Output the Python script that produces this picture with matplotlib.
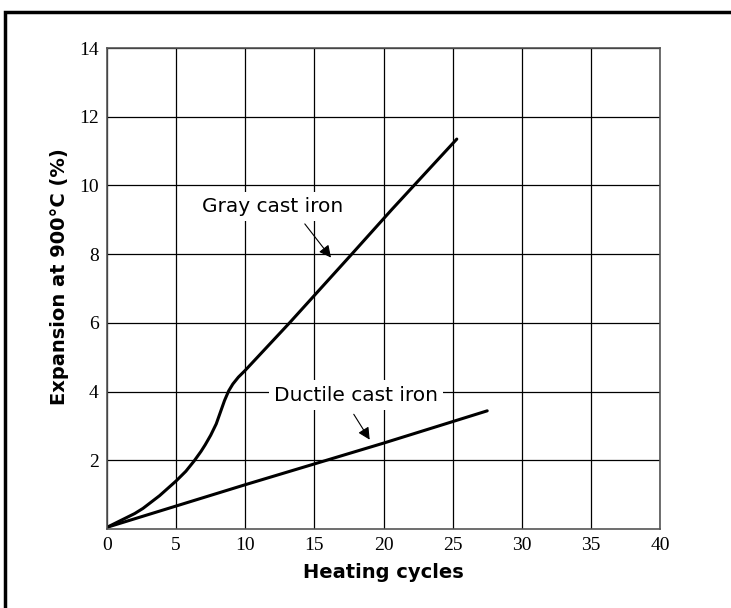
import matplotlib.pyplot as plt
from matplotlib.patches import Rectangle

# values
gray_x = [0, 1.0, 2.0, 2.6, 3.8, 5.0, 5.7, 6.3, 6.8, 7.1, 7.5, 7.9, 8.2, 8.5, 8.8, 9.1, 9.5, 10.0, 13.2, 17.7, 20.6, 25.3]
gray_y = [0.05, 0.25, 0.45, 0.6, 0.97, 1.4, 1.68, 1.98, 2.26, 2.45, 2.73, 3.06, 3.4, 3.74, 4.02, 4.22, 4.42, 4.62, 6.0, 8.0, 9.3, 11.35]
ductile_x = [0, 10, 20, 27.5]
ductile_y = [0.05, 1.29, 2.5, 3.44]

xticks = [0, 5, 10, 15, 20, 25, 30, 35, 40]
yticks = [2, 4, 6, 8, 10, 12, 14]

fig = plt.figure(figsize=(7.31, 6.08), dpi=100)
ax = fig.add_axes([0.1464, 0.1299, 0.7565, 0.7911])

# outer frame (only top and left edges visible in the original)
fig.patches.append(Rectangle((5 / 731, -0.1), 1.2, 1 - 12 / 608 + 0.1, transform=fig.transFigure,
                             fill=False, edgecolor="black", linewidth=2.5))

ax.set_xlim(0, 40)
ax.set_ylim(0, 14)
ax.set_xticks(xticks)
ax.set_yticks(yticks)
ax.grid(True, color="black", linewidth=0.9)
ax.tick_params(length=0, pad=6)
for lbl in ax.get_xticklabels() + ax.get_yticklabels():
    lbl.set_family("Liberation Serif")
    lbl.set_fontsize(14)
for s in ax.spines.values():
    s.set_color("#555555")
    s.set_linewidth(1.2)

ax.plot(gray_x, gray_y, color="black", linewidth=2.2, solid_capstyle="round")
ax.plot(ductile_x, ductile_y, color="black", linewidth=2.2, solid_capstyle="round")

ax.annotate("Gray cast iron", xy=(16.2, 7.9), xytext=(12.0, 9.4),
            fontsize=14.5, ha="center", va="center",
            bbox=dict(boxstyle="square,pad=0.25", fc="white", ec="none"),
            arrowprops=dict(arrowstyle="-|>", color="black", lw=0.8, mutation_scale=18,
                            shrinkA=3, shrinkB=0, relpos=(0.68, 0)))
ax.annotate("Ductile cast iron", xy=(19.0, 2.6), xytext=(18.0, 3.9),
            fontsize=14.5, ha="center", va="center",
            bbox=dict(boxstyle="square,pad=0.25", fc="white", ec="none"),
            arrowprops=dict(arrowstyle="-|>", color="black", lw=0.8, mutation_scale=18,
                            shrinkA=4, shrinkB=0, relpos=(0.45, 0)))

ax.set_xlabel("Heating cycles", fontsize=14, fontweight="bold", labelpad=6)
ax.set_ylabel("Expansion at 900°C (%)", fontsize=14, fontweight="bold")
ax.yaxis.set_label_coords(-0.068, 0.524)

fig.savefig("out.png", dpi=100)
